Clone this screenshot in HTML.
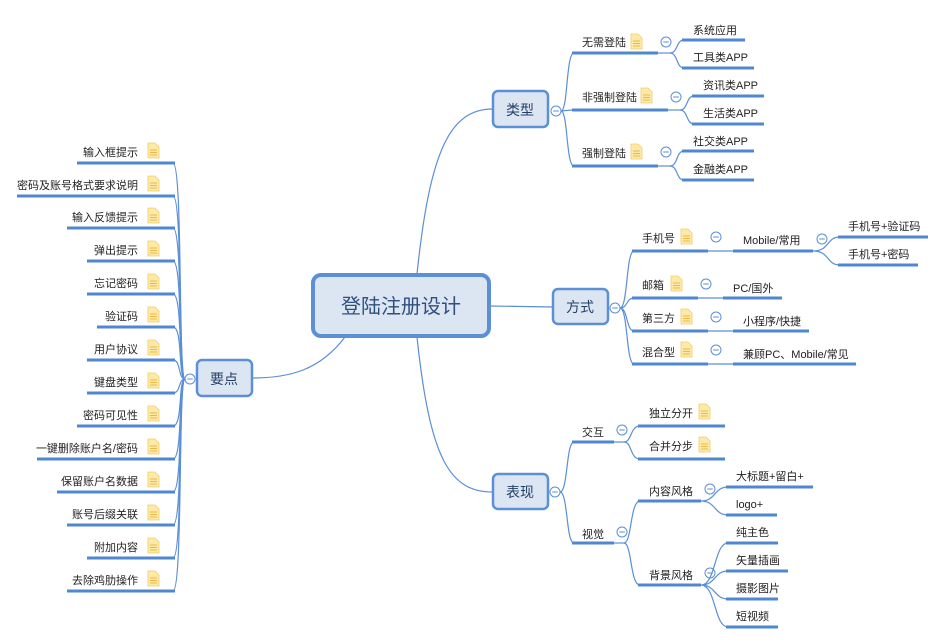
<!DOCTYPE html>
<html><head><meta charset="utf-8"><style>
html,body{margin:0;padding:0;background:#fff;}
svg{display:block;font-family:"Liberation Sans","Noto Sans CJK SC",sans-serif;}
.t{font-size:11px;fill:#222;}
.b{font-size:13px;fill:#222;}
.bar{stroke:#4f87d0;stroke-width:3;}
.ln{stroke:#5b8fd6;stroke-width:1.2;fill:none;}
.cc{fill:#fff;stroke:#5b8fd6;stroke-width:1;}
.node{fill:#dce6f2;stroke:#5b8fd6;stroke-width:2.5;}
.nt{font-size:14px;fill:#243f66;text-anchor:middle;}
</style></head><body>
<svg width="945" height="644" viewBox="0 0 945 644" xmlns="http://www.w3.org/2000/svg">
<defs>
<g id="ic"><path d="M0,0 H7 L11,4 V15 H0 Z" fill="#fde9a8" stroke="#f2cc6a" stroke-width="0.8"/><path d="M2,7H9M2,9.5H9M2,12H9" stroke="#e9b94a" stroke-width="0.9"/></g>
<g id="cm"><circle r="5" class="cc"/><path d="M-2.8,0H2.8" stroke="#5b8fd6" stroke-width="1"/></g>
</defs>

<!-- main connectors -->
<path class="ln" d="M417,274 C430,150 450,109 493,109"/>
<path class="ln" d="M490,306 L553,307"/>
<path class="ln" d="M417,337 C430,460 450,492 493,492"/>
<path class="ln" d="M345,337 C320,370 290,378 252,378"/>

<!-- center -->
<rect x="313" y="275" width="176" height="61" rx="8" fill="#dce6f2" stroke="#5b8fd6" stroke-width="4"/>
<text x="401" y="313" font-size="20" fill="#2f4f7f" text-anchor="middle">登陆注册设计</text>

<!-- 类型 -->
<rect class="node" x="493" y="91" width="55" height="36" rx="5"/>
<text class="nt" x="520" y="115">类型</text>
<use href="#cm" x="556" y="111"/>
<path class="ln" d="M561,111 C568,111 566,53 574,53 M561,111 L572,110 M561,111 C568,111 566,166 574,166"/>
<line class="bar" x1="572" y1="53" x2="658" y2="53"/><line class="ln" x1="658" y1="53" x2="672" y2="53"/>
<text class="t" x="582" y="46">无需登陆</text><use href="#ic" x="631" y="34"/><use href="#cm" x="666" y="42"/>
<path class="ln" d="M670,53 C678,53 676,40 684,40 M670,53 C678,53 676,68 684,68"/>
<line class="bar" x1="682" y1="40" x2="745" y2="40"/><text class="t" x="693" y="34">系统应用</text>
<line class="bar" x1="682" y1="68" x2="754" y2="68"/><text class="t" x="693" y="61">工具类APP</text>
<line class="bar" x1="572" y1="110" x2="668" y2="110"/><line class="ln" x1="668" y1="110" x2="682" y2="110"/>
<text class="t" x="582" y="101">非强制登陆</text><use href="#ic" x="641" y="88"/><use href="#cm" x="676" y="97"/>
<path class="ln" d="M680,110 C688,110 686,96 694,96 M680,110 C688,110 686,124 694,124"/>
<line class="bar" x1="692" y1="96" x2="764" y2="96"/><text class="t" x="703" y="89">资讯类APP</text>
<line class="bar" x1="692" y1="124" x2="764" y2="124"/><text class="t" x="703" y="117">生活类APP</text>
<line class="bar" x1="572" y1="166" x2="658" y2="166"/><line class="ln" x1="658" y1="166" x2="672" y2="166"/>
<text class="t" x="582" y="157">强制登陆</text><use href="#ic" x="631" y="144"/><use href="#cm" x="666" y="152"/>
<path class="ln" d="M670,166 C678,166 676,151 684,151 M670,166 C678,166 676,180 684,180"/>
<line class="bar" x1="682" y1="151" x2="754" y2="151"/><text class="t" x="693" y="145">社交类APP</text>
<line class="bar" x1="682" y1="180" x2="754" y2="180"/><text class="t" x="693" y="173">金融类APP</text>

<!-- 方式 -->
<rect class="node" x="553" y="289" width="55" height="35" rx="5"/>
<text class="nt" x="580" y="312">方式</text>
<use href="#cm" x="615" y="308"/>
<path class="ln" d="M620,308 C628,308 626,251 634,251 M620,308 C628,308 626,298 634,298 M620,308 C628,308 626,331 634,331 M620,308 C628,308 626,364 634,364"/>
<line class="bar" x1="632" y1="251" x2="708" y2="251"/><line class="ln" x1="708" y1="251" x2="733" y2="251"/>
<text class="t" x="642" y="242">手机号</text><use href="#ic" x="681" y="229"/><use href="#cm" x="716" y="237"/>
<line class="bar" x1="733" y1="251" x2="813" y2="251"/><text class="t" x="743" y="244">Mobile/常用</text><use href="#cm" x="822" y="239"/>
<path class="ln" d="M813,251 C830,251 826,237 840,237 M813,251 C830,251 826,265 840,265"/>
<line class="bar" x1="838" y1="237" x2="928" y2="237"/><text class="t" x="848" y="230">手机号+验证码</text>
<line class="bar" x1="838" y1="265" x2="918" y2="265"/><text class="t" x="848" y="258">手机号+密码</text>
<line class="bar" x1="632" y1="298" x2="698" y2="298"/><line class="ln" x1="698" y1="298" x2="723" y2="298"/>
<text class="t" x="642" y="289">邮箱</text><use href="#ic" x="671" y="276"/><use href="#cm" x="706" y="284"/>
<line class="bar" x1="723" y1="298" x2="782" y2="298"/><text class="t" x="733" y="292">PC/国外</text>
<line class="bar" x1="632" y1="331" x2="708" y2="331"/><line class="ln" x1="708" y1="331" x2="733" y2="331"/>
<text class="t" x="642" y="322">第三方</text><use href="#ic" x="681" y="309"/><use href="#cm" x="716" y="317"/>
<line class="bar" x1="733" y1="331" x2="809" y2="331"/><text class="t" x="743" y="325">小程序/快捷</text>
<line class="bar" x1="632" y1="364" x2="708" y2="364"/><line class="ln" x1="708" y1="364" x2="733" y2="364"/>
<text class="t" x="642" y="356">混合型</text><use href="#ic" x="681" y="342"/><use href="#cm" x="716" y="350"/>
<line class="bar" x1="733" y1="364" x2="856" y2="364"/><text class="t" x="743" y="358">兼顾PC、Mobile/常见</text>

<!-- 表现 -->
<rect class="node" x="493" y="474" width="55" height="35" rx="5"/>
<text class="nt" x="520" y="497">表现</text>
<use href="#cm" x="555" y="492"/>
<path class="ln" d="M560,492 C568,492 566,442 574,442 M560,492 C568,492 566,543 574,543"/>
<line class="bar" x1="572" y1="442" x2="614" y2="442"/><line class="ln" x1="614" y1="442" x2="626" y2="442"/>
<text class="t" x="582" y="436">交互</text><use href="#cm" x="622" y="430"/>
<path class="ln" d="M624,442 C632,442 630,426 640,426 M624,442 C632,442 630,459 640,459"/>
<line class="bar" x1="638" y1="426" x2="725" y2="426"/><text class="t" x="649" y="417">独立分开</text><use href="#ic" x="699" y="404"/>
<line class="bar" x1="638" y1="459" x2="725" y2="459"/><text class="t" x="649" y="450">合并分步</text><use href="#ic" x="699" y="437"/>
<line class="bar" x1="572" y1="543" x2="614" y2="543"/><line class="ln" x1="614" y1="543" x2="626" y2="543"/>
<text class="t" x="582" y="538">视觉</text><use href="#cm" x="622" y="532"/>
<path class="ln" d="M624,543 C632,543 630,501 640,501 M624,543 C632,543 630,585 640,585"/>
<line class="bar" x1="638" y1="501" x2="701" y2="501"/><text class="t" x="649" y="495">内容风格</text><use href="#cm" x="710" y="489"/>
<path class="ln" d="M701,501 C716,501 714,487 728,487 M701,501 C716,501 714,515 728,515"/>
<line class="bar" x1="726" y1="487" x2="813" y2="487"/><text class="t" x="736" y="480">大标题+留白+</text>
<line class="bar" x1="726" y1="515" x2="777" y2="515"/><text class="t" x="736" y="508">logo+</text>
<line class="bar" x1="638" y1="585" x2="701" y2="585"/><text class="t" x="649" y="579">背景风格</text><use href="#cm" x="710" y="573"/>
<path class="ln" d="M701,585 C716,585 714,543 728,543 M701,585 C716,585 714,571 728,571 M701,585 C716,585 714,599 728,599 M701,585 C716,585 714,627 728,627"/>
<line class="bar" x1="726" y1="543" x2="778" y2="543"/><text class="t" x="736" y="536">纯主色</text>
<line class="bar" x1="726" y1="571" x2="788" y2="571"/><text class="t" x="736" y="564">矢量插画</text>
<line class="bar" x1="726" y1="599" x2="778" y2="599"/><text class="t" x="736" y="592">摄影图片</text>
<line class="bar" x1="726" y1="627" x2="778" y2="627"/><text class="t" x="736" y="620">短视频</text>

<!-- 要点 -->
<rect class="node" x="197" y="360" width="55" height="36" rx="5"/>
<text class="nt" x="224" y="384">要点</text>
<use href="#cm" x="190" y="379"/>
<g class="ln">
<path d="M185,379 C178,379 183,163 173,163"/><path d="M185,379 C178,379 183,196 173,196"/>
<path d="M185,379 C178,379 183,228 173,228"/><path d="M185,379 C178,379 183,261 173,261"/>
<path d="M185,379 C178,379 183,294 173,294"/><path d="M185,379 C178,379 183,327 173,327"/>
<path d="M185,379 C178,379 181,360 173,360"/><path d="M185,379 C178,379 181,393 173,393"/>
<path d="M185,379 C178,379 183,426 173,426"/><path d="M185,379 C178,379 183,459 173,459"/>
<path d="M185,379 C178,379 183,492 173,492"/><path d="M185,379 C178,379 183,525 173,525"/>
<path d="M185,379 C178,379 183,558 173,558"/><path d="M185,379 C178,379 183,591 173,591"/>
</g>
<g text-anchor="end">
<line class="bar" x1="77" y1="163" x2="175" y2="163"/><text class="t" x="138" y="156">输入框提示</text><use href="#ic" x="148" y="143"/>
<line class="bar" x1="17" y1="196" x2="175" y2="196"/><text class="t" x="138" y="189">密码及账号格式要求说明</text><use href="#ic" x="148" y="176"/>
<line class="bar" x1="67" y1="228" x2="175" y2="228"/><text class="t" x="138" y="221">输入反馈提示</text><use href="#ic" x="148" y="208"/>
<line class="bar" x1="87" y1="261" x2="175" y2="261"/><text class="t" x="138" y="254">弹出提示</text><use href="#ic" x="148" y="241"/>
<line class="bar" x1="87" y1="294" x2="175" y2="294"/><text class="t" x="138" y="287">忘记密码</text><use href="#ic" x="148" y="274"/>
<line class="bar" x1="97" y1="327" x2="175" y2="327"/><text class="t" x="138" y="320">验证码</text><use href="#ic" x="148" y="307"/>
<line class="bar" x1="87" y1="360" x2="175" y2="360"/><text class="t" x="138" y="353">用户协议</text><use href="#ic" x="148" y="340"/>
<line class="bar" x1="87" y1="393" x2="175" y2="393"/><text class="t" x="138" y="386">键盘类型</text><use href="#ic" x="148" y="373"/>
<line class="bar" x1="77" y1="426" x2="175" y2="426"/><text class="t" x="138" y="419">密码可见性</text><use href="#ic" x="148" y="406"/>
<line class="bar" x1="37" y1="459" x2="175" y2="459"/><text class="t" x="138" y="452">一键删除账户名/密码</text><use href="#ic" x="148" y="439"/>
<line class="bar" x1="57" y1="492" x2="175" y2="492"/><text class="t" x="138" y="485">保留账户名数据</text><use href="#ic" x="148" y="472"/>
<line class="bar" x1="67" y1="525" x2="175" y2="525"/><text class="t" x="138" y="518">账号后缀关联</text><use href="#ic" x="148" y="505"/>
<line class="bar" x1="87" y1="558" x2="175" y2="558"/><text class="t" x="138" y="551">附加内容</text><use href="#ic" x="148" y="538"/>
<line class="bar" x1="67" y1="591" x2="175" y2="591"/><text class="t" x="138" y="584">去除鸡肋操作</text><use href="#ic" x="148" y="571"/>
</g>
</svg>
</body></html>
